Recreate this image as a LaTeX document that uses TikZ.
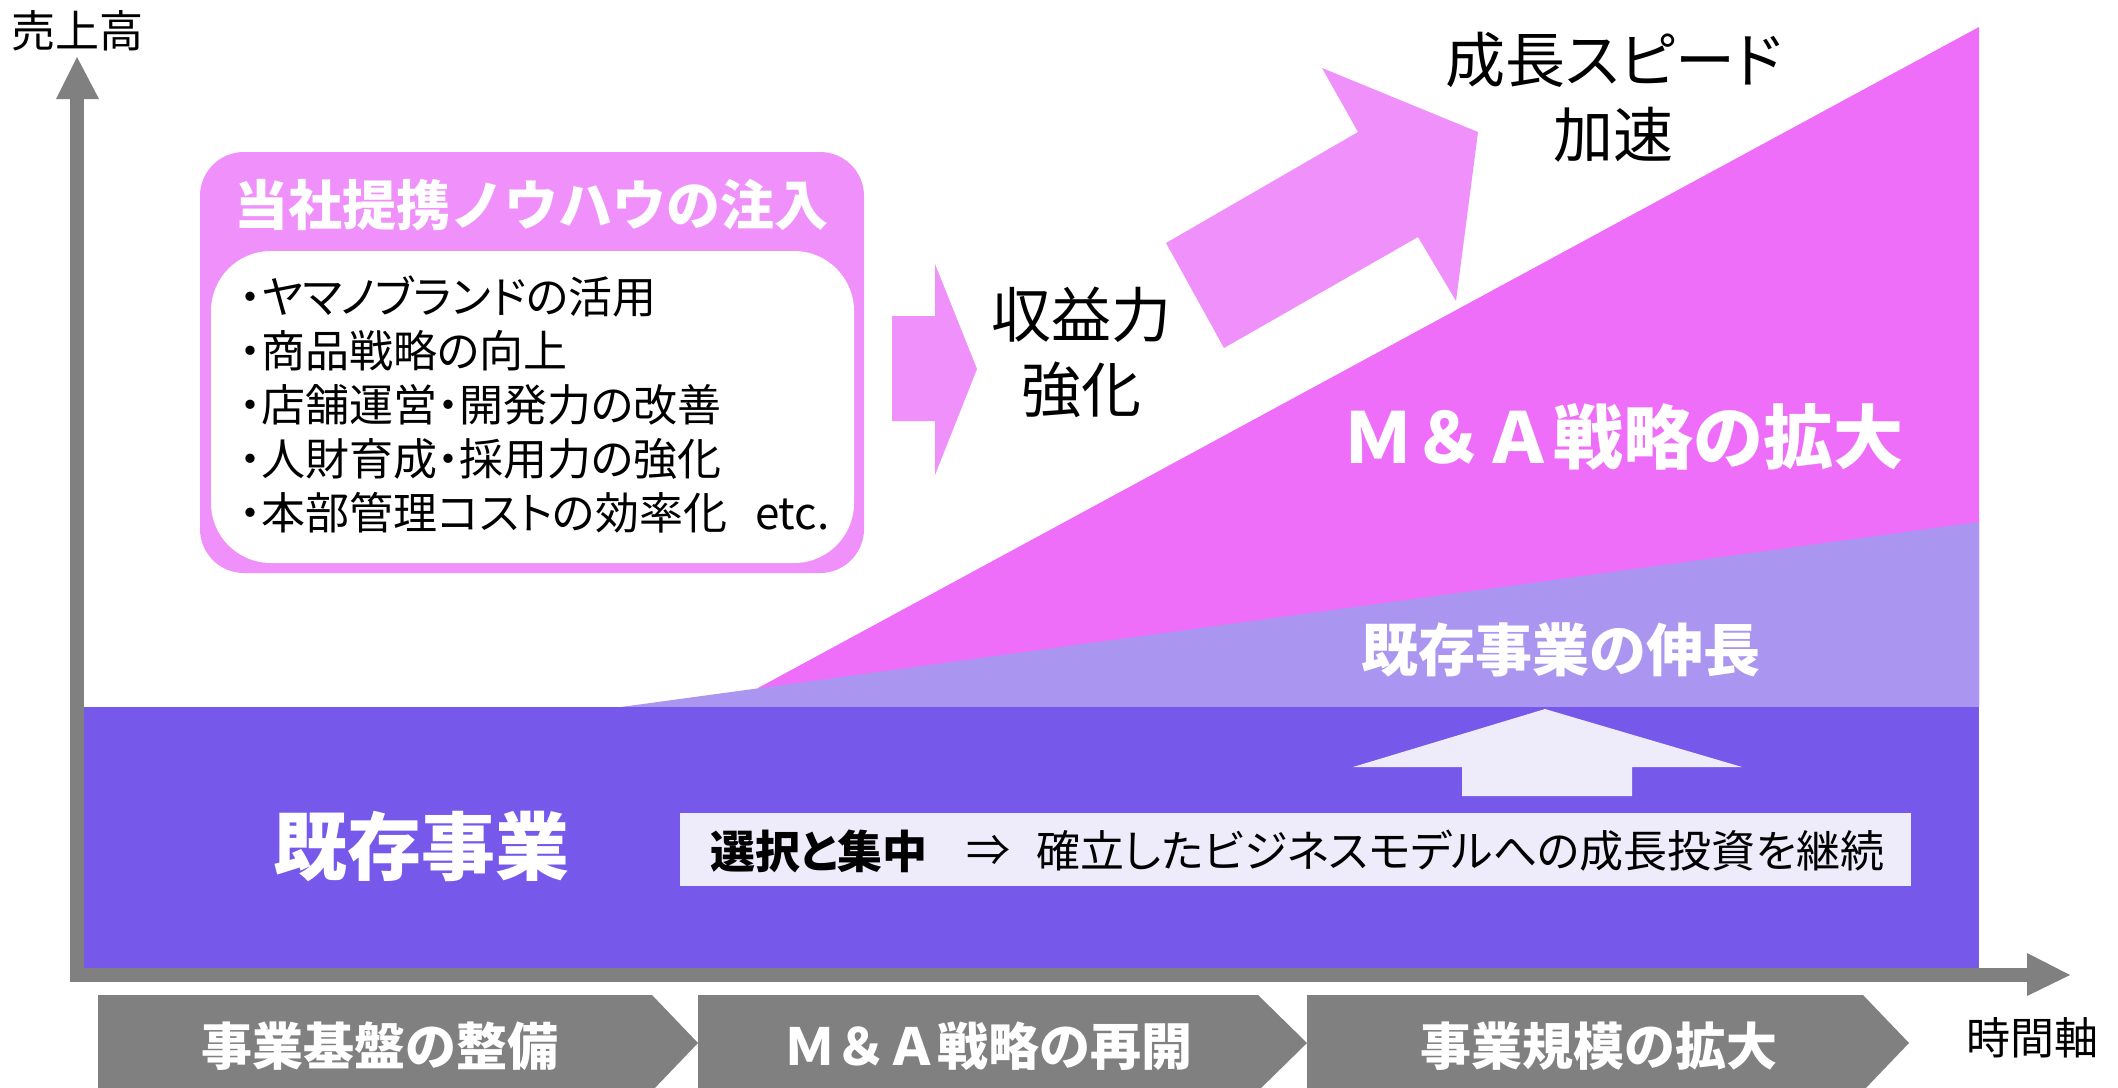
\documentclass[tikz,border=0pt]{standalone}
\usepackage{fontspec}
\newfontfamily\jp[RawFeature=+palt]{Noto Sans CJK JP}
\newfontfamily\jpf{Noto Sans CJK JP}
\newcommand{\fsz}[1]{\fontsize{#1}{#1}\selectfont}
\definecolor{darkpur}{HTML}{7658EB}
\definecolor{lavend}{HTML}{AA96F0}
\definecolor{pinkm}{HTML}{EE6EFA}
\definecolor{pinkl}{HTML}{F090FA}
\definecolor{axgray}{HTML}{808080}
\definecolor{dotfill}{HTML}{EEEBFB}
\tikzset{
  whitebold/.style={text=white, inner sep=0pt, font=\jpf\bfseries},
  blacktxt/.style={text=black, inner sep=0pt, font=\jp},
  chevron/.style={fill=axgray, draw=none},
}
\begin{document}
\begin{tikzpicture}[x=0.5pt,y=-0.5pt]
\useasboundingbox (0,0) rectangle (2118,1087);
\fill[white] (0,0) rectangle (2118,1087);

% regions
\fill[pinkm] (758,688) -- (1979,27) -- (1979,707) -- (758,707) -- cycle;
\fill[lavend] (621,707) -- (1979,522) -- (1979,707) -- cycle;
\fill[darkpur] (77,707) rectangle (1979,975);

% axes
\fill[axgray] (70,982) rectangle (84,99);
\fill[axgray] (56,99) -- (99,99) -- (77,57) -- cycle;
\fill[axgray] (70,968) rectangle (2027,982);
\fill[axgray] (2027,953) -- (2027,996) -- (2070,975) -- cycle;
\node[blacktxt, font=\jpf\fsz{22pt}] (ylab) at (77,31) {売上高};
\node[blacktxt, font=\jpf\fsz{22pt}] (xlab) at (2032,1038) {時間軸};

% knowhow box
\fill[pinkl, rounded corners=22] (200,152) rectangle (864,573);
\fill[white, rounded corners=30] (211,251) rectangle (854,563);
\node[whitebold, font=\jpf\bfseries\fsz{27pt}] (title) at (531,205) {当社提携ノウハウの注入};
\node[blacktxt, font=\jp\fsz{22pt}, align=left, anchor=north west] (items) at (239,275)
  {・ヤマノブランドの活用\\[5pt]・商品戦略の向上\\[5pt]・店舗運営・開発力の改善\\[5pt]・人財育成・採用力の強化\\[5pt]・本部管理コストの効率化\hspace{14pt}etc.};

% small arrow
\fill[pinkl] (892,316) -- (935,316) -- (935,264) -- (977,369) -- (935,475) -- (935,421) -- (892,421) -- cycle;
\node[blacktxt, font=\jpf\fsz{30pt}] (rev1) at (1081,315) {収益力};
\node[blacktxt, font=\jpf\fsz{30pt}] (rev2) at (1081,390) {強化};

% zigzag arrow
\fill[pinkl] (1166,243) -- (1358,132) -- (1322,68) -- (1478,132) -- (1456,301) -- (1418,237) -- (1224,348) -- cycle;
\node[blacktxt, font=\jp\fsz{30pt}] (sp1) at (1614,60) {成長スピード};
\node[blacktxt, font=\jpf\fsz{30pt}] (sp2) at (1613,135) {加速};

% region labels
\node[whitebold, font=\jpf\bfseries\fsz{35pt}] (ma) at (1623,437) {Ｍ＆Ａ戦略の拡大};
\node[whitebold, font=\jpf\bfseries\fsz{28.5pt}] (ext) at (1561,650) {既存事業の伸長};
\node[whitebold, font=\jpf\bfseries\fsz{37pt}] (base) at (421,846) {既存事業};

% up arrow
\fill[dotfill] (1545,709) -- (1742,767) -- (1632,767) -- (1632,796) -- (1462,796) -- (1462,767) -- (1353,767) -- cycle;

% text box
\fill[dotfill] (680,813) rectangle (1911,886);
\node[blacktxt, font=\jp\bfseries\fsz{22.5pt}, anchor=west] (sel) at (710,851) {選択と集中};
\node[blacktxt, font=\jpf\fsz{22pt}] (imp) at (988,851) {⇒};
\node[blacktxt, font=\jp\fsz{22pt}, anchor=west] (inv) at (1036,851) {確立したビジネスモデルへの成長投資を継続};

% chevrons
\fill[chevron] (98,995) -- (652,995) -- (698,1043) -- (652,1091) -- (98,1091) -- cycle;
\fill[chevron] (698,995) -- (1258,995) -- (1307,1043) -- (1258,1091) -- (698,1091) -- cycle;
\fill[chevron] (1307,995) -- (1863,995) -- (1909,1043) -- (1863,1091) -- (1307,1091) -- cycle;
\node[whitebold, font=\jpf\bfseries\fsz{25.5pt}] (ph1) at (380,1046) {事業基盤の整備};
\node[whitebold, font=\jpf\bfseries\fsz{25.5pt}] (ph2) at (988,1046) {Ｍ＆Ａ戦略の再開};
\node[whitebold, font=\jpf\bfseries\fsz{25.5pt}] (ph3) at (1599,1046) {事業規模の拡大};
\end{tikzpicture}
\end{document}
